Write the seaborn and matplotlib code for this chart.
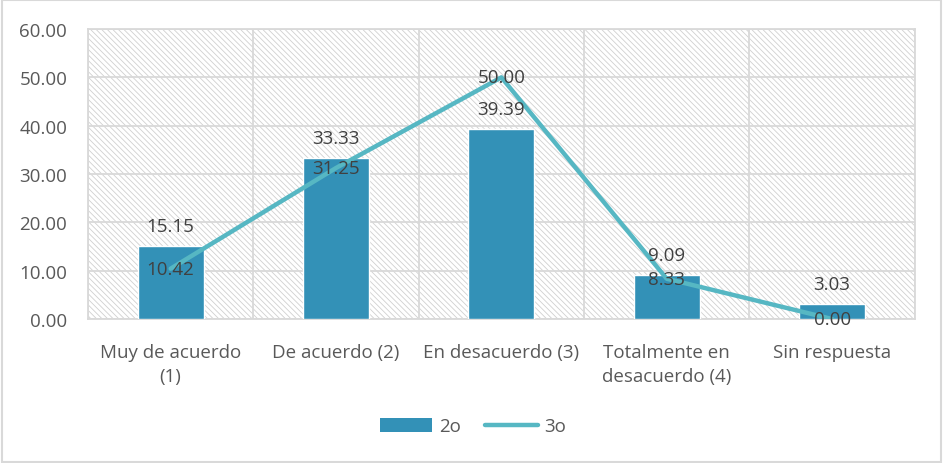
import numpy as np
import pandas as pd
import matplotlib
matplotlib.use("Agg")
import matplotlib.pyplot as plt
from matplotlib.patches import Patch, Rectangle
from matplotlib.lines import Line2D
import seaborn as sns

categories = ["Muy de acuerdo\n(1)", "De acuerdo (2)", "En desacuerdo (3)",
              "Totalmente en\ndesacuerdo (4)", "Sin respuesta"]
values_2o = [15.15, 33.33, 39.39, 9.09, 3.03]
values_3o = [10.42, 31.25, 50.00, 8.33, 0.00]
y_ticks = [0, 10, 20, 30, 40, 50, 60]

BAR_COLOR = "#3391B7"
LINE_COLOR = "#56B7C3"
GRID_COLOR = "#D9D9D9"
TICK_COLOR = "#595959"
LABEL_COLOR = "#404040"
FS = 13.5

sns.set_theme(style="white")
plt.rcParams["font.family"] = ["Open Sans", "DejaVu Sans"]
plt.rcParams["hatch.linewidth"] = 0.6
plt.rcParams["hatch.color"] = "#D0D0D0"

df = pd.DataFrame({"cat": categories, "2o": values_2o, "3o": values_3o,
                   "pos": np.arange(len(categories))})

fig = plt.figure(figsize=(9.46, 4.64), dpi=100)
ax = fig.add_axes([0.093, 0.3103, 0.874, 0.625])

# fine diagonal hatch on the plot background
ax.patch.set_facecolor("white")
ax.patch.set_hatch("\\" * 6)
ax.patch.set_edgecolor("#D0D0D0")
ax.patch.set_linewidth(0)

sns.barplot(data=df, x="pos", y="2o", color=BAR_COLOR, width=0.4,
            saturation=1, ax=ax, zorder=3, native_scale=True)
sns.lineplot(data=df, x="pos", y="3o", color=LINE_COLOR, linewidth=3.2,
             ax=ax, zorder=4, solid_capstyle="round")

ax.set_xlim(-0.5, len(categories) - 0.5)
ax.set_ylim(0, 60)
ax.set_yticks(y_ticks)
ax.set_yticklabels([f"{v:.2f}" for v in y_ticks])
ax.set_xticks(np.arange(len(categories)))
ax.set_xticklabels(categories, linespacing=1.45)
ax.tick_params(axis="both", length=0, labelsize=FS, labelcolor=TICK_COLOR)
ax.tick_params(axis="y", pad=15)
ax.tick_params(axis="x", pad=17)
ax.set_xlabel("")
ax.set_ylabel("")

# gridlines: horizontal at ticks, vertical at category boundaries
for y in y_ticks:
    ax.axhline(y, color=GRID_COLOR, linewidth=1.3, zorder=1)
for xb in np.arange(-0.5, len(categories), 1.0):
    ax.axvline(xb, color=GRID_COLOR, linewidth=1.3, zorder=1)
for s in ax.spines.values():
    s.set_color(GRID_COLOR)
    s.set_linewidth(1.3)

# value labels
for i, v in enumerate(values_2o):
    ax.annotate(f"{v:.2f}", (i, v), xytext=(0, 8), textcoords="offset points",
                ha="center", va="bottom", fontsize=FS, color=LABEL_COLOR, zorder=6)
for i, v in enumerate(values_3o):
    ax.annotate(f"{v:.2f}", (i, v), ha="center", va="center",
                fontsize=FS, color=LABEL_COLOR, zorder=6)

handles = [Patch(facecolor=BAR_COLOR, edgecolor="none"),
           Line2D([0], [0], color=LINE_COLOR, linewidth=3.2, solid_capstyle="round")]
fig.legend(handles, ["2o", "3o"], loc="center", bbox_to_anchor=(0.5, 0.079),
           ncol=2, frameon=False, fontsize=FS, labelcolor=TICK_COLOR,
           handlelength=2.8, handleheight=0.75, columnspacing=1.3, handletextpad=0.35)

fig.patches.append(Rectangle((0.002, 0.003), 0.993, 0.994, transform=fig.transFigure,
                             fill=False, edgecolor=GRID_COLOR, linewidth=1.5))

fig.savefig("out.png", dpi=100)
